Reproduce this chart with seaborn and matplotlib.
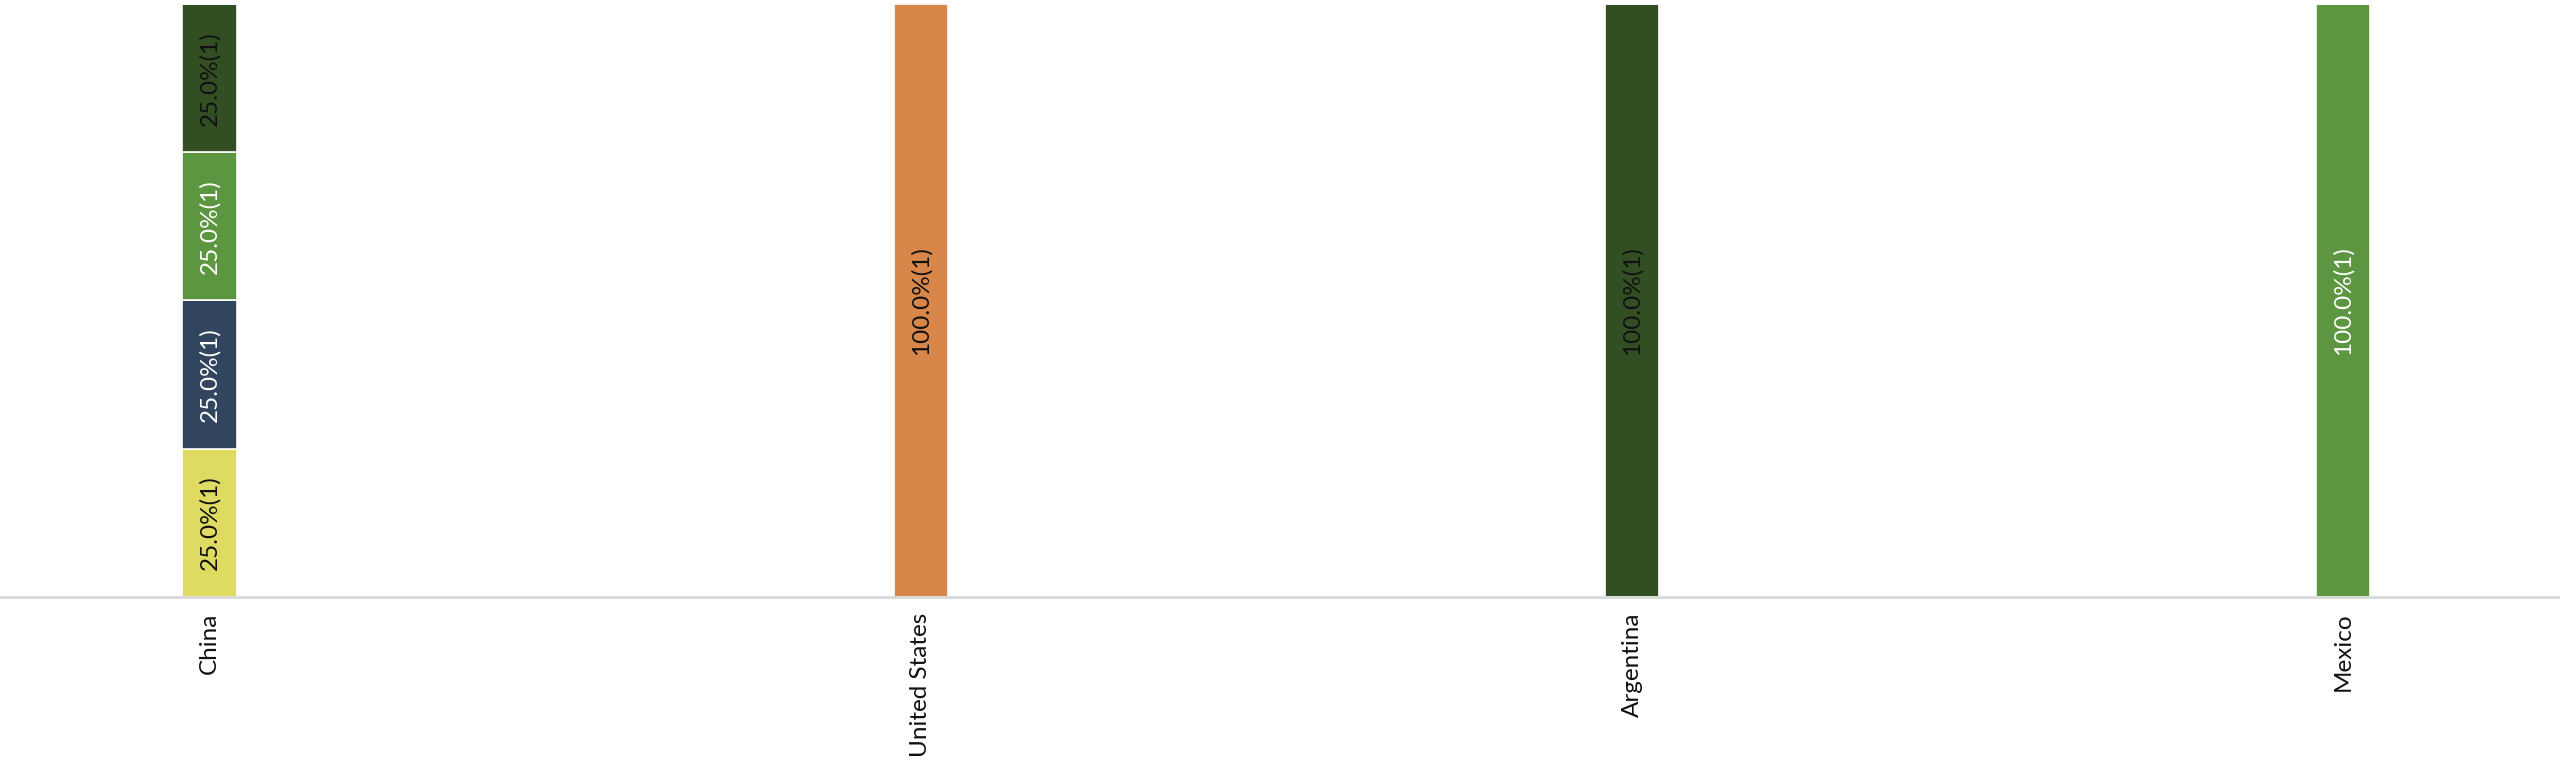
import matplotlib
matplotlib.use("Agg")
import matplotlib.pyplot as plt
import seaborn as sns
import pandas as pd
import numpy as np

categories = ["China", "United States", "Argentina", "Mexico"]
series_names = ["Yellow", "Navy", "Green", "Dark green", "Orange"]
series_colors = ["#dfda62", "#31455f", "#5c9641", "#324f23", "#d9864a"]
label_colors = ["#111111", "#ffffff", "#ffffff", "#111111", "#111111"]
# percentage share per series (rows) for each category (columns)
values = [
    [25.0, 0.0, 0.0, 0.0],
    [25.0, 0.0, 0.0, 0.0],
    [25.0, 0.0, 0.0, 100.0],
    [25.0, 0.0, 100.0, 0.0],
    [0.0, 100.0, 0.0, 0.0],
]
counts = [
    [1, 0, 0, 0],
    [1, 0, 0, 0],
    [1, 0, 0, 1],
    [1, 0, 1, 0],
    [0, 1, 0, 0],
]

sns.set_theme(style="white")
plt.rcParams["font.family"] = ["Lato", "DejaVu Sans"]

fig = plt.figure(figsize=(25.6, 7.7), dpi=100)
ax = fig.add_axes([0.0, 0.2247, 1.0, 0.7701])

bottom = np.zeros(len(categories))
for s, name in enumerate(series_names):
    df = pd.DataFrame({"category": categories, "value": values[s]})
    sns.barplot(data=df, x="category", y="value", order=categories,
                color=series_colors[s], saturation=1, width=0.077,
                bottom=bottom.copy(), edgecolor="white", linewidth=1.2,
                ax=ax, errorbar=None)
    for i, v in enumerate(values[s]):
        if v > 0:
            ax.text(i, bottom[i] + v / 2, f"{v:.1f}%({counts[s][i]})",
                    rotation=90, ha="center", va="center",
                    color=label_colors[s], fontsize=17.5)
    bottom = bottom + np.array(values[s])

ax.set_ylim(0, 100)
ax.set_xlim(-0.295, 3.305)
ax.set_xlabel("")
ax.set_ylabel("")
ax.set_yticks([])
for sp in ["left", "right", "top"]:
    ax.spines[sp].set_visible(False)
ax.spines["bottom"].set_color("#d9d9d9")
ax.spines["bottom"].set_linewidth(2)
ax.tick_params(axis="x", length=0, pad=11, labelsize=17.5, labelcolor="#111111",
               labelrotation=90)

fig.savefig("out.png", dpi=100)
